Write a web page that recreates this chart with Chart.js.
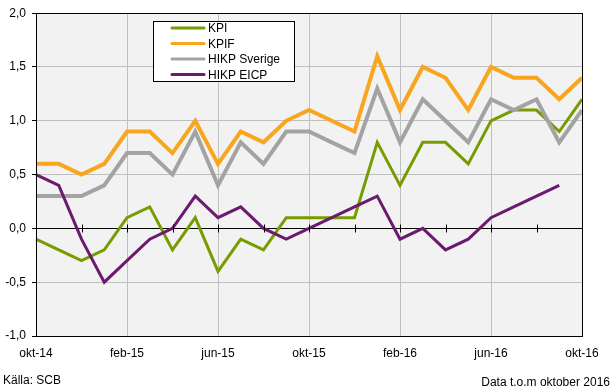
<!DOCTYPE html>
<html>
<head>
<meta charset="utf-8">
<script src="https://cdn.jsdelivr.net/npm/chart.js@4.4.1/dist/chart.umd.min.js"></script>
<style>
  body { margin: 0; background: #fff; }
  #wrap { position: relative; width: 615px; height: 392px; }
  .note { position: absolute; font-family: "Liberation Sans", Arial, sans-serif; font-size: 12px; color: #000; }
</style>
</head>
<body>
<div id="wrap">
  <canvas id="chart-line" width="615" height="392"></canvas>
  <div class="note" style="left:3px; top:373px;">Källa: SCB</div>
  <div class="note" style="right:5px; top:375px;">Data t.o.m oktober 2016</div>
</div>
<script>
/* Data */
var manader = ["okt-14", "nov-14", "dec-14", "jan-15", "feb-15", "mar-15", "apr-15", "maj-15", "jun-15", "jul-15", "aug-15", "sep-15",
  "okt-15", "nov-15", "dec-15", "jan-16", "feb-16", "mar-16", "apr-16", "maj-16", "jun-16", "jul-16", "aug-16", "sep-16", "okt-16"];
var kpi = [-0.1, -0.2, -0.3, -0.2, 0.1, 0.2, -0.2, 0.1, -0.4, -0.1, -0.2, 0.1, 0.1, 0.1, 0.1, 0.8, 0.4, 0.8, 0.8, 0.6, 1.0, 1.1, 1.1, 0.9, 1.2];
var kpif = [0.6, 0.6, 0.5, 0.6, 0.9, 0.9, 0.7, 1.0, 0.6, 0.9, 0.8, 1.0, 1.1, 1.0, 0.9, 1.6, 1.1, 1.5, 1.4, 1.1, 1.5, 1.4, 1.4, 1.2, 1.4];
var hikpSverige = [0.3, 0.3, 0.3, 0.4, 0.7, 0.7, 0.5, 0.9, 0.4, 0.8, 0.6, 0.9, 0.9, 0.8, 0.7, 1.3, 0.8, 1.2, 1.0, 0.8, 1.2, 1.1, 1.2, 0.8, 1.1];
var hikpEicp = [0.5, 0.4, -0.1, -0.5, -0.3, -0.1, 0.0, 0.3, 0.1, 0.2, 0.0, -0.1, 0.0, 0.1, 0.2, 0.3, -0.1, 0.0, -0.2, -0.1, 0.1, 0.2, 0.3, 0.4, null];
var yTicks = [-1.0, -0.5, 0.0, 0.5, 1.0, 1.5, 2.0];

var fuente = "'Liberation Sans', Arial, sans-serif";

// plot background, frame, small ticks on the zero line and legend box
var marco = {
  id: "marco",
  beforeDraw: function(chart) {
    var a = chart.chartArea, c = chart.ctx;
    c.save();
    c.fillStyle = "#f2f2f2";
    c.fillRect(a.left, a.top, a.right - a.left, a.bottom - a.top);
    c.restore();
  },
  afterDatasetsDraw: function(chart) {
    var a = chart.chartArea, c = chart.ctx;
    var x = chart.scales.x, y = chart.scales.y;
    c.save();
    c.strokeStyle = "#000";
    c.lineWidth = 1;
    c.strokeRect(Math.round(a.left) + 0.5, Math.round(a.top) + 0.5, Math.round(a.right - a.left), Math.round(a.bottom - a.top));

    var y0 = Math.round(y.getPixelForValue(0)) + 0.5;
    c.beginPath();
    for (let i = 2; i < manader.length - 1; i += 2) {
      var px = Math.round(x.getPixelForValue(i)) + 0.5;
      c.moveTo(px, y0 - 4);
      c.lineTo(px, y0 + 4);
    }
    c.stroke();

    // legend
    var lx = 153, ly = 21, lw = 141, lh = 60;
    c.fillStyle = "#fff";
    c.fillRect(lx, ly, lw, lh);
    c.strokeRect(lx + 0.5, ly + 0.5, lw, lh);
    c.font = "12px " + fuente;
    c.textBaseline = "middle";
    chart.data.datasets.forEach(function(ds, i) {
      var yy = ly + 7 + i * 15.5;
      c.strokeStyle = ds.borderColor;
      c.lineWidth = 3;
      c.lineCap = "round";
      c.beginPath();
      c.moveTo(172, yy);
      c.lineTo(204, yy);
      c.stroke();
      c.fillStyle = "#000";
      c.fillText(ds.label, 208, yy + 1);
    });
    c.restore();
  }
};

var ctx = document.getElementById("chart-line").getContext("2d");

new Chart(ctx, {
  type: "line",
  data: {
    labels: manader,
    datasets: [{
        label: "KPI",
        data: kpi,
        borderColor: "#779c00",
        borderWidth: 3,
        order: 3
      }, {
        label: "KPIF",
        data: kpif,
        borderColor: "#f9a51e",
        borderWidth: 4,
        order: 2
      }, {
        label: "HIKP Sverige",
        data: hikpSverige,
        borderColor: "#a3a3a3",
        borderWidth: 4,
        order: 1
      }, {
        label: "HIKP EICP",
        data: hikpEicp,
        borderColor: "#6c1a6f",
        borderWidth: 3,
        order: 0
      }
    ],
  },
  options: {
    responsive: false,
    animation: false,
    elements: {
      line: { tension: 0, borderJoinStyle: "miter", fill: false },
      point: { radius: 0 }
    },
    layout: {
      padding: { top: 11, right: 33, bottom: 0, left: 0 }
    },
    plugins: {
      legend: { display: false },
      tooltip: { enabled: false }
    },
    scales: {
      x: {
        offset: false,
        afterFit: function(s) { s.height = 56; },
        border: { display: false },
        grid: {
          drawTicks: false,
          color: function(c) { return c.index % 4 === 0 ? "#bfbfbf" : "rgba(0,0,0,0)"; }
        },
        ticks: {
          autoSkip: false,
          maxRotation: 0,
          padding: 10,
          color: "#000",
          font: { size: 12, family: fuente },
          callback: function(v, i) { return i % 4 === 0 ? manader[i] : ""; }
        }
      },
      y: {
        min: yTicks[0],
        max: yTicks[yTicks.length - 1],
        afterFit: function(s) { s.width = 36; },
        afterBuildTicks: function(s) { s.ticks = yTicks.map(function(v) { return { value: v }; }); },
        border: { display: false },
        grid: {
          tickLength: 4,
          color: function(c) { return c.tick && c.tick.value === 0 ? "#000" : "#bfbfbf"; },
          tickColor: "#000"
        },
        ticks: {
          padding: 6,
          color: "#000",
          font: { size: 12, family: fuente },
          callback: function(v) { return v.toFixed(1).replace(".", ","); }
        }
      }
    }
  },
  plugins: [marco]
});
</script>
</body>
</html>
